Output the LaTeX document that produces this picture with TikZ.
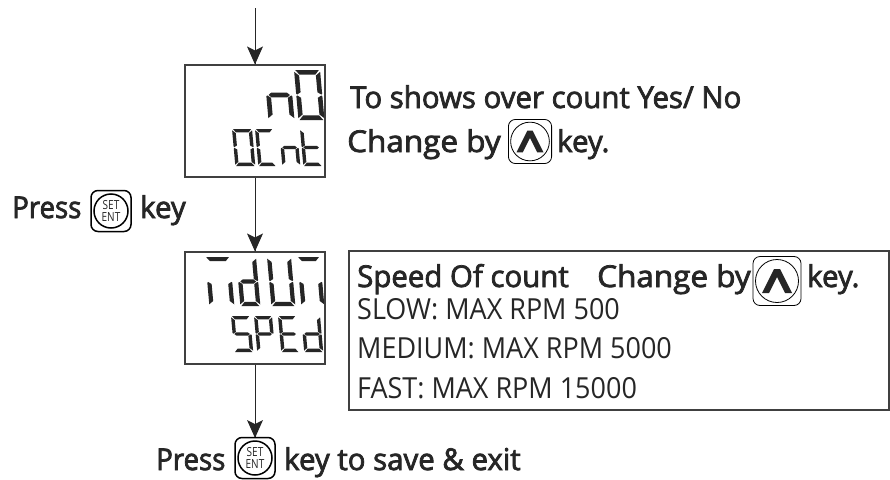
\documentclass[tikz,border=0pt]{standalone}
\usepackage{fontspec}
\setmainfont{Open Sans}[FakeStretch=0.93]
\newfontfamily\medfont{Open Sans}[FakeStretch=0.98,FakeBold=2.5]
\newfontfamily\iconfont{Open Sans}[FakeStretch=0.8]
\tikzset{
 flow/.style={line width=1pt,draw=black!85},
 head/.style={fill=black!85,draw=none},
 lcd/.style={draw=black!75,line width=1.1pt,fill=white},
 seg/.style={fill=black!85,draw=none},
 boldtext/.style={anchor=base west,inner sep=0pt,font=\medfont\fontsize{30}{30}\selectfont,text=black!85},
 regtext/.style={anchor=base west,inner sep=0pt,font=\fontsize{29}{29}\selectfont,text=black!85},
}
% digit: #1 left x, #2 top y, #3 width, #4 height, #5 thickness, #6 list of segments
\newcommand{\sevdigit}[6]{%
 \begin{scope}[shift={(#1,#2)},xslant=-0.09]
 \def\W{#3}\def\H{#4}\def\T{#5}
 \pgfmathsetmacro{\M}{\H/2}
 \foreach \s in {#6}{%
  \if\s a\fill[seg] (\T*.25,0) -- (\W-\T*.25,0) -- (\W-\T*1.1,\T) -- (\T*1.1,\T) -- cycle;\fi
  \if\s d\fill[seg] (\T*.25,\H) -- (\W-\T*.25,\H) -- (\W-\T*1.1,\H-\T) -- (\T*1.1,\H-\T) -- cycle;\fi
  \if\s g\fill[seg] (\T*.5,\M) -- (\T*1.1,\M-\T*.5) -- (\W-\T*1.1,\M-\T*.5) -- (\W-\T*.5,\M) -- (\W-\T*1.1,\M+\T*.5) -- (\T*1.1,\M+\T*.5) -- cycle;\fi
  \if\s f\fill[seg] (0,\T*.4) -- (\T,\T*1.2) -- (\T,\M-\T*.6) -- (\T*.2,\M-\T*.1) -- (0,\M-\T*.3) -- cycle;\fi
  \if\s e\fill[seg] (0,\M+\T*.3) -- (\T*.2,\M+\T*.1) -- (\T,\M+\T*.6) -- (\T,\H-\T*1.2) -- (0,\H-\T*.4) -- cycle;\fi
  \if\s b\fill[seg] (\W,\T*.4) -- (\W-\T,\T*1.2) -- (\W-\T,\M-\T*.6) -- (\W-\T*.2,\M-\T*.1) -- (\W,\M-\T*.3) -- cycle;\fi
  \if\s c\fill[seg] (\W,\M+\T*.3) -- (\W-\T*.2,\M+\T*.1) -- (\W-\T,\M+\T*.6) -- (\W-\T,\H-\T*1.2) -- (\W,\H-\T*.4) -- cycle;\fi
 }
 \end{scope}}
% buttons
\newcommand{\setkey}[2]{%
 \draw[line width=1.5pt,rounded corners=7pt,draw=black] (#1-20,#2-20.5) rectangle (#1+20,#2+20.5);
 \draw[line width=1.5pt,draw=black] (#1,#2) circle (17);
 \node[inner sep=0pt,text=black!85,align=center,font=\iconfont\fontsize{12.5}{11.5}\selectfont] at (#1,#2) {SET\\ENT};}
\newcommand{\upkey}[3]{%
 \begin{scope}[shift={(#1,#2)},scale=#3]
 \draw[line width=.8pt,rounded corners=7pt,draw=black] (-24,-24.5) rectangle (24,24.5);
 \draw[line width=.8pt,draw=black] (0,0) circle (21.5);
 \fill[black!85] (-15,12) -- (-3,-12) -- (3,-12) -- (15,12) -- (8,12) -- (0,-4) -- (-8,12) -- cycle;
 \end{scope}}
\begin{document}
\begin{tikzpicture}[x=1pt,y=-1pt]
\useasboundingbox (0,0) rectangle (890,479);
\fill[white] (0,0) rectangle (890,479);
\coordinate (start) at (255,8);
\coordinate (stop) at (255,438);
\node[lcd,minimum width=140pt,minimum height=112pt,inner sep=0pt] (b1) at (255,121) {};
\node[lcd,minimum width=140pt,minimum height=112pt,inner sep=0pt] (b2) at (255,308) {};
\node[draw=black!75,line width=1.1pt,minimum width=540pt,minimum height=159pt,inner sep=0pt] (b3) at (619,330.5) {};
\draw[flow] (start) -- (b1.north);
\draw[flow] (b1.south) -- (b2.north);
\draw[flow] (b2.south) -- (stop);
\fill[head] (b1.north) -- ++(-8,-18) -- ++(8,4) -- ++(8,-4) -- cycle;
\fill[head] (b2.north) -- ++(-8,-18) -- ++(8,4) -- ++(8,-4) -- cycle;
\fill[head] (stop) -- ++(-8,-18) -- ++(8,4) -- ++(8,-4) -- cycle;
% box 1
\sevdigit{264}{70}{26}{50}{4.6}{c,e,g}
\sevdigit{294}{70}{26}{50}{4.6}{a,b,c,d,e,f}
\sevdigit{232}{129}{20}{37}{3.4}{a,b,c,d,e,f}
\sevdigit{255}{129}{18}{37}{3.4}{a,d,e,f}
\sevdigit{279}{129}{18}{37}{3.4}{c,e,g}
\sevdigit{300}{129}{19}{37}{3.4}{d,e,f,g}
% box 2
\sevdigit{205}{257}{25}{49}{4.2}{a,c,e}
\sevdigit{236}{257}{20}{49}{4.2}{b,c,d,e,g}
\sevdigit{267}{257}{24}{49}{4.2}{b,c,d,e,f}
\sevdigit{297}{257}{23}{49}{4.2}{a,c,e}
\sevdigit{231}{316}{19}{36}{3.4}{a,c,d,f,g}
\sevdigit{254}{316}{18}{36}{3.4}{a,b,e,f,g}
\sevdigit{278}{316}{18}{36}{3.4}{a,d,e,f,g}
\sevdigit{301}{316}{19}{36}{3.4}{b,c,d,e,g}
% texts
\node[boldtext] (t1) at (350,108) {To shows over count Yes/ No};
\node[boldtext] (t2) at (347,152) {\scalebox{1.07}[1]{Change by}};
\upkey{530}{141.5}{0.9}
\node[boldtext] (t3) at (557,152) {key.};
\node[boldtext] (t4) at (12,218) {\scalebox{.94}[1]{Press}};
\setkey{111}{211}
\node[boldtext] (t5) at (140,218) {key};
\node[boldtext] (t6) at (357,287) {Speed Of count};
\node[boldtext] (t7) at (597,287) {\scalebox{1.07}[1]{Change by}};
\upkey{777}{281}{1}
\node[boldtext] (t8) at (807,287) {key.};
\node[regtext] (t9) at (357,319) {SLOW: MAX RPM 500};
\node[regtext] (t10) at (357,358) {MEDIUM: MAX RPM 5000};
\node[regtext] (t11) at (357,398) {FAST: MAX RPM 15000};
\node[boldtext] (t12) at (156,470) {\scalebox{.94}[1]{Press}};
\setkey{255}{458}
\node[boldtext] (t13) at (284,470) {key to save \& exit};
\end{tikzpicture}
\end{document}
